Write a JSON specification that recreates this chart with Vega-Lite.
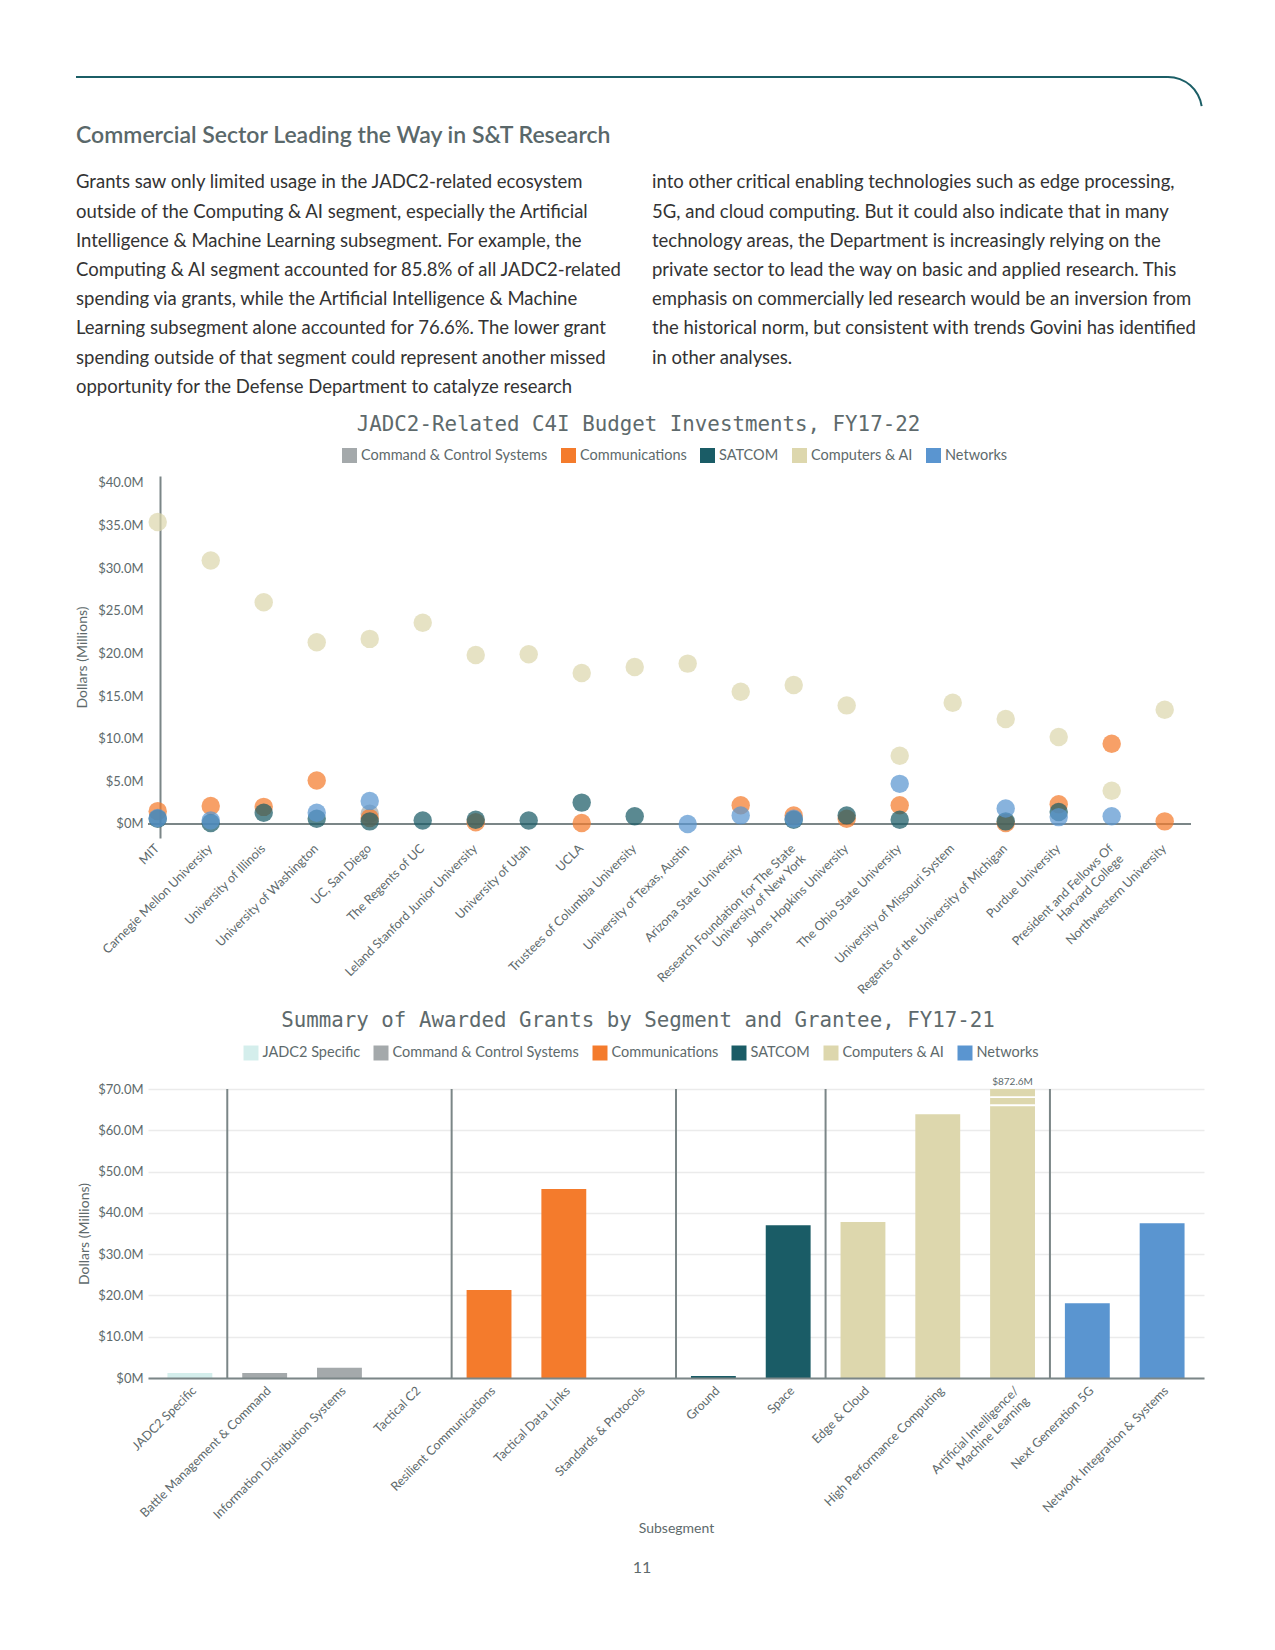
{
  "$schema": "https://vega.github.io/schema/vega-lite/v6.json",
  "padding": {"left": 74, "top": 75, "right": 5, "bottom": 5},
  "background": "white",
  "bounds": "flush",
  "spacing": 251,
  "resolve": {"scale": {"color": "independent", "x": "independent", "y": "independent"}, "legend": {"color": "independent"}},
  "config": {
    "font": "Lato",
    "view": {"stroke": null},
    "axis": {"labelFont": "Lato", "titleFont": "Lato", "labelColor": "#5e6a6c", "titleColor": "#5e6a6c", "titleFontWeight": "normal", "labelFontSize": 13, "titleFontSize": 14},
    "legend": {"labelFont": "Lato", "labelFontSize": 14.5, "labelColor": "#5e6a6c", "symbolType": "square", "symbolSize": 225, "symbolOpacity": 1, "symbolStrokeWidth": 0, "columnPadding": 13, "labelOffset": 4, "labelLimit": 400},
    "title": {"font": "DejaVu Sans Mono", "fontSize": 20.8, "fontWeight": "normal", "color": "#5e6a6c"}
  },
  "vconcat": [
    {
      "width": 1043,
      "height": 148,
      "layer": [
        {
          "data": {"values": [{}]},
          "mark": {"type": "rule", "color": "#1b5e66", "strokeWidth": 2},
          "encoding": {
            "x": {"datum": 0, "type": "quantitative", "scale": {"domain": [0.125, 1.93576], "nice": false, "zero": false}, "axis": null},
            "x2": {"datum": 1.8958},
            "y": {"datum": -2.606, "type": "quantitative", "scale": {"domain": [-2.606, 2.462], "nice": false, "zero": false, "reverse": true}, "axis": null}
          }
        },
        {
          "data": {"values": [{}]},
          "mark": {"type": "arc", "innerRadius": 33, "outerRadius": 35, "theta": 0, "theta2": 1.43, "color": "#1b5e66"},
          "encoding": {
            "x": {"datum": 1.8958, "type": "quantitative", "scale": {"domain": [0.125, 1.93576], "nice": false, "zero": false}, "axis": null},
            "y": {"datum": -1.442, "type": "quantitative", "scale": {"domain": [-2.606, 2.462], "nice": false, "zero": false, "reverse": true}, "axis": null}
          }
        },
        {
          "data": {"values": [{"t": "Commercial Sector Leading the Way in S&T Research"}]},
          "mark": {"type": "text", "align": "left", "baseline": "middle", "fontSize": 23, "fontWeight": 600, "color": "#5a686a", "font": "Lato"},
          "encoding": {
            "x": {"datum": 0, "type": "quantitative", "scale": {"domain": [0.125, 1.93576], "nice": false, "zero": false}, "axis": null},
            "y": {"datum": -0.585, "type": "quantitative", "scale": {"domain": [-2.606, 2.462], "nice": false, "zero": false, "reverse": true}, "axis": null},
            "text": {"field": "t"}
          }
        },
        {
          "data": {"values": [
            {"c": 0, "l": 1, "t": "Grants saw only limited usage in the JADC2-related ecosystem"},
            {"c": 0, "l": 2, "t": "outside of the Computing & AI segment, especially the Artificial"},
            {"c": 0, "l": 3, "t": "Intelligence & Machine Learning subsegment. For example, the"},
            {"c": 0, "l": 4, "t": "Computing & AI segment accounted for 85.8% of all JADC2-related"},
            {"c": 0, "l": 5, "t": "spending via grants, while the Artificial Intelligence & Machine"},
            {"c": 0, "l": 6, "t": "Learning subsegment alone accounted for 76.6%. The lower grant"},
            {"c": 0, "l": 7, "t": "spending outside of that segment could represent another missed"},
            {"c": 0, "l": 8, "t": "opportunity for the Defense Department to catalyze research"},
            {"c": 1, "l": 1, "t": "into other critical enabling technologies such as edge processing,"},
            {"c": 1, "l": 2, "t": "5G, and cloud computing. But it could also indicate that in many"},
            {"c": 1, "l": 3, "t": "technology areas, the Department is increasingly relying on the"},
            {"c": 1, "l": 4, "t": "private sector to lead the way on basic and applied research. This"},
            {"c": 1, "l": 5, "t": "emphasis on commercially led research would be an inversion from"},
            {"c": 1, "l": 6, "t": "the historical norm, but consistent with trends Govini has identified"},
            {"c": 1, "l": 7, "t": "in other analyses."}
          ]},
          "mark": {"type": "text", "align": "left", "baseline": "middle", "fontSize": 18.5, "color": "#333333", "font": "Lato"},
          "encoding": {
            "x": {"field": "c", "type": "quantitative", "scale": {"domain": [0.125, 1.93576], "nice": false, "zero": false}, "axis": null},
            "y": {"field": "l", "type": "quantitative", "scale": {"domain": [-2.606, 2.462], "nice": false, "zero": false, "reverse": true}, "axis": null},
            "text": {"field": "t"}
          }
        }
      ]
    },
    {
      "width": 1043,
      "height": 362,
      "title": {"text": "JADC2-Related C4I Budget Investments, FY17-22", "frame": "group", "anchor": "middle", "dx": -31, "offset": 12},
      "layer": [
        {
          "data": {"values": [{}]},
          "mark": {"type": "rule", "color": "#7b8687", "strokeWidth": 2},
          "encoding": {
            "y": {"datum": 0, "type": "quantitative", "scale": {"domain": [-1.65, 40.8], "nice": false, "zero": false}}
          }
        },
        {
          "data": {"values": [
            {"u": "UC, San Diego", "s": "Command & Control Systems", "v": 1.2},
            {"u": "MIT", "s": "Communications", "v": 1.5},
            {"u": "Carnegie Mellon University", "s": "Communications", "v": 2.1},
            {"u": "University of Illinois", "s": "Communications", "v": 2.0},
            {"u": "University of Washington", "s": "Communications", "v": 5.1},
            {"u": "UC, San Diego", "s": "Communications", "v": 0.7},
            {"u": "Leland Stanford Junior University", "s": "Communications", "v": 0.2},
            {"u": "UCLA", "s": "Communications", "v": 0.1},
            {"u": "Arizona State University", "s": "Communications", "v": 2.2},
            {"u": "Research Foundation for The State|University of New York", "s": "Communications", "v": 1.0},
            {"u": "Johns Hopkins University", "s": "Communications", "v": 0.6},
            {"u": "The Ohio State University", "s": "Communications", "v": 2.2},
            {"u": "Regents of the University of Michigan", "s": "Communications", "v": 0.1},
            {"u": "Purdue University", "s": "Communications", "v": 2.3},
            {"u": "President and Fellows Of|Harvard College", "s": "Communications", "v": 9.4},
            {"u": "Northwestern University", "s": "Communications", "v": 0.3},
            {"u": "MIT", "s": "SATCOM", "v": 0.6},
            {"u": "Carnegie Mellon University", "s": "SATCOM", "v": 0.1},
            {"u": "University of Illinois", "s": "SATCOM", "v": 1.3},
            {"u": "University of Washington", "s": "SATCOM", "v": 0.6},
            {"u": "UC, San Diego", "s": "SATCOM", "v": 0.3},
            {"u": "The Regents of UC", "s": "SATCOM", "v": 0.4},
            {"u": "Leland Stanford Junior University", "s": "SATCOM", "v": 0.5},
            {"u": "University of Utah", "s": "SATCOM", "v": 0.4},
            {"u": "UCLA", "s": "SATCOM", "v": 2.5},
            {"u": "Trustees of Columbia University", "s": "SATCOM", "v": 0.9},
            {"u": "Research Foundation for The State|University of New York", "s": "SATCOM", "v": 0.5},
            {"u": "Johns Hopkins University", "s": "SATCOM", "v": 1.0},
            {"u": "The Ohio State University", "s": "SATCOM", "v": 0.5},
            {"u": "Regents of the University of Michigan", "s": "SATCOM", "v": 0.3},
            {"u": "Purdue University", "s": "SATCOM", "v": 1.4},
            {"u": "MIT", "s": "Computers & AI", "v": 35.4},
            {"u": "Carnegie Mellon University", "s": "Computers & AI", "v": 30.9},
            {"u": "University of Illinois", "s": "Computers & AI", "v": 26.0},
            {"u": "University of Washington", "s": "Computers & AI", "v": 21.3},
            {"u": "UC, San Diego", "s": "Computers & AI", "v": 21.7},
            {"u": "The Regents of UC", "s": "Computers & AI", "v": 23.6},
            {"u": "Leland Stanford Junior University", "s": "Computers & AI", "v": 19.8},
            {"u": "University of Utah", "s": "Computers & AI", "v": 19.9},
            {"u": "UCLA", "s": "Computers & AI", "v": 17.7},
            {"u": "Trustees of Columbia University", "s": "Computers & AI", "v": 18.4},
            {"u": "University of Texas, Austin", "s": "Computers & AI", "v": 18.8},
            {"u": "Arizona State University", "s": "Computers & AI", "v": 15.5},
            {"u": "Research Foundation for The State|University of New York", "s": "Computers & AI", "v": 16.3},
            {"u": "Johns Hopkins University", "s": "Computers & AI", "v": 13.9},
            {"u": "The Ohio State University", "s": "Computers & AI", "v": 8.0},
            {"u": "University of Missouri System", "s": "Computers & AI", "v": 14.2},
            {"u": "Regents of the University of Michigan", "s": "Computers & AI", "v": 12.3},
            {"u": "Purdue University", "s": "Computers & AI", "v": 10.2},
            {"u": "President and Fellows Of|Harvard College", "s": "Computers & AI", "v": 3.9},
            {"u": "Northwestern University", "s": "Computers & AI", "v": 13.4},
            {"u": "MIT", "s": "Networks", "v": 0.7},
            {"u": "Carnegie Mellon University", "s": "Networks", "v": 0.4},
            {"u": "University of Washington", "s": "Networks", "v": 1.3},
            {"u": "UC, San Diego", "s": "Networks", "v": 2.7},
            {"u": "University of Texas, Austin", "s": "Networks", "v": 0.0},
            {"u": "Arizona State University", "s": "Networks", "v": 1.0},
            {"u": "Research Foundation for The State|University of New York", "s": "Networks", "v": 0.6},
            {"u": "The Ohio State University", "s": "Networks", "v": 4.7},
            {"u": "Regents of the University of Michigan", "s": "Networks", "v": 1.8},
            {"u": "Purdue University", "s": "Networks", "v": 0.8},
            {"u": "President and Fellows Of|Harvard College", "s": "Networks", "v": 0.9}
          ]},
          "mark": {"type": "circle", "size": 340, "opacity": 0.72},
          "encoding": {
            "x": {
              "field": "u", "type": "nominal", "sort": null,
              "scale": {"type": "point", "padding": 0.34, "align": 0.27, "domain": ["MIT", "Carnegie Mellon University", "University of Illinois", "University of Washington", "UC, San Diego", "The Regents of UC", "Leland Stanford Junior University", "University of Utah", "UCLA", "Trustees of Columbia University", "University of Texas, Austin", "Arizona State University", "Research Foundation for The State|University of New York", "Johns Hopkins University", "The Ohio State University", "University of Missouri System", "Regents of the University of Michigan", "Purdue University", "President and Fellows Of|Harvard College", "Northwestern University"]},
              "axis": {"title": null, "labelAngle": -45, "labelBaseline": "middle", "labelOffset": -1, "domain": false, "ticks": false, "labelPadding": 8, "labelFontSize": 12.5, "labelLimit": 400, "labelExpr": "split(datum.label, '|')"}
            },
            "y": {
              "field": "v", "type": "quantitative",
              "scale": {"domain": [-1.65, 40.8], "nice": false, "zero": false},
              "axis": {"values": [0, 5, 10, 15, 20, 25, 30, 35, 40], "labelExpr": "datum.value == 0 ? '$0M' : '$' + format(datum.value, '.1f') + 'M'", "grid": false, "ticks": false, "domainColor": "#7b8687", "domainWidth": 2, "offset": -12, "labelPadding": 17, "title": "Dollars (Millions)", "titlePadding": 8}
            },
            "color": {
              "field": "s", "type": "nominal",
              "scale": {"domain": ["Command & Control Systems", "Communications", "SATCOM", "Computers & AI", "Networks"], "range": ["#a4a9ab", "#f47b2c", "#1a5c66", "#ddd7ad", "#5a95d0"]},
              "legend": {"title": null, "orient": "none", "legendX": 194, "legendY": -28, "direction": "horizontal"}
            }
          }
        }
      ]
    },
    {
      "width": 1056,
      "height": 289,
      "title": {"text": "Summary of Awarded Grants by Segment and Grantee, FY17-21", "frame": "group", "anchor": "middle", "dx": -38, "offset": 14},
      "data": {"values": [
        {"sub": "JADC2 Specific", "seg": "JADC2 Specific", "v": 1.2},
        {"sub": "Battle Management & Command", "seg": "Command & Control Systems", "v": 1.2},
        {"sub": "Information Distribution Systems", "seg": "Command & Control Systems", "v": 2.5},
        {"sub": "Tactical C2", "seg": "Command & Control Systems", "v": 0},
        {"sub": "Resilient Communications", "seg": "Communications", "v": 21.3},
        {"sub": "Tactical Data Links", "seg": "Communications", "v": 45.8},
        {"sub": "Standards & Protocols", "seg": "Communications", "v": 0},
        {"sub": "Ground", "seg": "SATCOM", "v": 0.5},
        {"sub": "Space", "seg": "SATCOM", "v": 37.0},
        {"sub": "Edge & Cloud", "seg": "Computers & AI", "v": 37.8},
        {"sub": "High Performance Computing", "seg": "Computers & AI", "v": 63.9},
        {"sub": "Artificial Intelligence/|Machine Learning", "seg": "Computers & AI", "v": 872.6},
        {"sub": "Next Generation 5G", "seg": "Networks", "v": 18.1},
        {"sub": "Network Integration & Systems", "seg": "Networks", "v": 37.5}
      ]},
      "layer": [
        {
          "mark": {"type": "bar", "width": {"band": 0.6}, "clip": true},
          "encoding": {
            "x": {
              "field": "sub", "type": "nominal", "sort": null,
              "scale": {"type": "band", "paddingInner": 0, "paddingOuter": 0.06, "domain": ["JADC2 Specific", "Battle Management & Command", "Information Distribution Systems", "Tactical C2", "Resilient Communications", "Tactical Data Links", "Standards & Protocols", "Ground", "Space", "Edge & Cloud", "High Performance Computing", "Artificial Intelligence/|Machine Learning", "Next Generation 5G", "Network Integration & Systems"]},
              "axis": {"title": "Subsegment", "labelAngle": -45, "ticks": false, "domainColor": "#7b8687", "domainWidth": 2, "labelPadding": 6, "labelFontSize": 12.5, "labelLimit": 400, "labelExpr": "split(datum.label, '|')", "titlePadding": 1, "zindex": 1}
            },
            "y": {
              "field": "v", "type": "quantitative",
              "scale": {"domain": [0, 70], "nice": false},
              "axis": {"values": [0, 10, 20, 30, 40, 50, 60, 70], "labelExpr": "datum.value == 0 ? '$0M' : '$' + format(datum.value, '.1f') + 'M'", "grid": true, "gridColor": "#ebebeb", "gridWidth": 1.5, "domain": false, "ticks": false, "labelPadding": 5, "title": "Dollars (Millions)", "titlePadding": 6}
            },
            "color": {
              "field": "seg", "type": "nominal",
              "scale": {"domain": ["JADC2 Specific", "Command & Control Systems", "Communications", "SATCOM", "Computers & AI", "Networks"], "range": ["#d4eeec", "#a4a9ab", "#f47b2c", "#1a5c66", "#ddd7ad", "#5a95d0"]},
              "legend": {"title": null, "orient": "none", "legendX": 95.5, "legendY": -43.5, "direction": "horizontal"}
            }
          }
        },
        {
          "transform": [{"filter": {"field": "sub", "oneOf": ["Battle Management & Command", "Resilient Communications", "Ground", "Edge & Cloud", "Next Generation 5G"]}}],
          "mark": {"type": "rule", "color": "#7b8687", "strokeWidth": 2},
          "encoding": {
            "x": {"field": "sub", "type": "nominal", "bandPosition": 0, "sort": null},
            "y": {"datum": 0, "type": "quantitative"},
            "y2": {"datum": 70}
          }
        },
        {
          "transform": [{"filter": "datum.v > 70"}],
          "mark": {"type": "bar", "width": {"band": 0.6}, "color": "white"},
          "encoding": {
            "x": {"field": "sub", "type": "nominal", "sort": null},
            "y": {"datum": 65.85, "type": "quantitative"},
            "y2": {"datum": 66.3}
          }
        },
        {
          "transform": [{"filter": "datum.v > 70"}],
          "mark": {"type": "bar", "width": {"band": 0.6}, "color": "white"},
          "encoding": {
            "x": {"field": "sub", "type": "nominal", "sort": null},
            "y": {"datum": 67.8, "type": "quantitative"},
            "y2": {"datum": 68.25}
          }
        },
        {
          "transform": [{"filter": "datum.v > 70"}, {"calculate": "'$' + format(datum.v, '.1f') + 'M'", "as": "lab"}],
          "mark": {"type": "text", "baseline": "bottom", "dy": -2, "fontSize": 10, "color": "#5e6a6c"},
          "encoding": {
            "x": {"field": "sub", "type": "nominal", "sort": null},
            "y": {"datum": 70, "type": "quantitative"},
            "text": {"field": "lab"}
          }
        }
      ]
    },
    {
      "width": 988,
      "height": 1,
      "title": {"text": "11", "font": "Lato", "fontSize": 16, "color": "#5e6a6c", "offset": 48, "anchor": "middle", "frame": "group"},
      "data": {"values": [{}]},
      "mark": {"type": "text"},
      "encoding": {"text": {"value": ""}}
    }
  ]
}
